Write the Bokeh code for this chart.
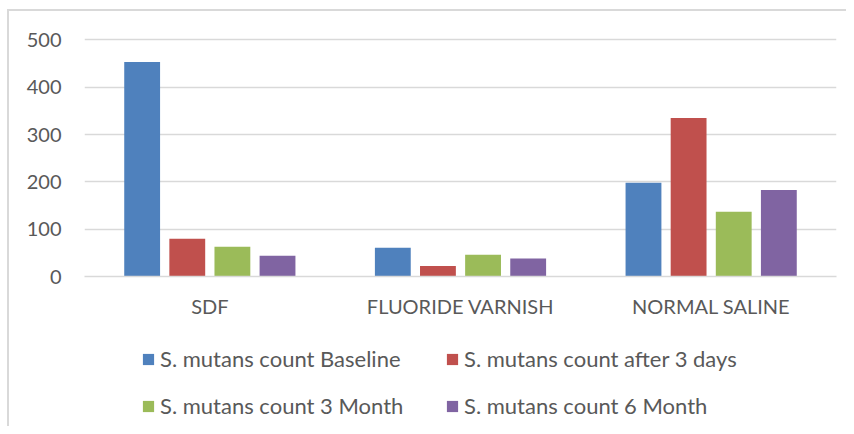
from bokeh.plotting import figure
from bokeh.layouts import column
from bokeh.models import FactorRange, Range1d, Legend, LegendItem, ColumnDataSource
from bokeh.transform import dodge
from bokeh.embed import file_html
from bokeh.resources import INLINE

categories = ["SDF", "FLUORIDE VARNISH", "NORMAL SALINE"]
series_names = ["S. mutans count Baseline", "S. mutans count after 3 days",
                "S. mutans count 3 Month", "S. mutans count 6 Month"]
baseline = [453, 61, 198]
after_3_days = [80, 22, 335]
month_3 = [63, 46, 137]
month_6 = [44, 38, 183]
y_ticks = [0, 100, 200, 300, 400, 500]

colors = ["#4F81BD", "#C0504D", "#9BBB59", "#8064A2"]
offsets = [-0.27, -0.09, 0.09, 0.27]
FONT = "Lato"
FS = "20px"
LFS = "22px"
TXT = "#595959"

src = ColumnDataSource(dict(cat=categories, s0=baseline, s1=after_3_days,
                            s2=month_3, s3=month_6))

bg = ("linear-gradient(#d9d9d9,#d9d9d9) 7px 9px / 2px 100% no-repeat, "
      "linear-gradient(#d9d9d9,#d9d9d9) 7px 9px / 100% 2px no-repeat, #ffffff")

# ---- chart ----
p = figure(x_range=FactorRange(*categories), y_range=Range1d(0, 505),
           width=846, height=330, output_backend="svg", toolbar_location=None,
           min_border_left=84, min_border_right=10, min_border_top=37,
           min_border_bottom=54)
p.background_fill_color = None
p.border_fill_color = None

for i in range(4):
    p.vbar(x=dodge("cat", offsets[i], range=p.x_range), top="s%d" % i,
           width=0.143, source=src, fill_color=colors[i], line_color=None)

p.outline_line_color = None
p.xgrid.grid_line_color = None
p.ygrid.grid_line_color = "#d9d9d9"
p.ygrid.grid_line_width = 1.3
p.yaxis.ticker = y_ticks

for ax in (p.xaxis, p.yaxis):
    ax.major_tick_line_color = None
    ax.minor_tick_line_color = None
    ax.major_tick_out = 0
    ax.major_tick_in = 0
    ax.major_label_text_font = FONT
    ax.major_label_text_font_size = FS
    ax.major_label_text_color = TXT
p.yaxis.axis_line_color = None
p.yaxis.major_label_standoff = 23
p.xaxis.axis_line_color = "#d9d9d9"
p.xaxis.axis_line_width = 1.5
p.xaxis.major_label_standoff = 17

# ---- legend area ----
lg = figure(width=846, height=96, output_backend="svg", toolbar_location=None,
            x_axis_location=None, y_axis_location=None, min_border=0,
            x_range=Range1d(0, 1), y_range=Range1d(0, 1))
lg.background_fill_color = None
lg.border_fill_color = None
lg.outline_line_color = None
lg.xgrid.grid_line_color = None
lg.ygrid.grid_line_color = None

# legend-only renderers (their single point lies outside the visible range)
dummies = [lg.vbar(x=[-5], top=[-5], width=0.1, fill_color=c, line_color=None)
           for c in colors]


def make_legend(idx, y):
    leg = Legend(items=[LegendItem(label=series_names[j], renderers=[dummies[j]]) for j in idx],
                 orientation="horizontal", location=(57, y))
    leg.border_line_color = None
    leg.background_fill_alpha = 0
    leg.padding = 0
    leg.margin = 0
    leg.spacing = 0
    leg.glyph_width = 14
    leg.glyph_height = 14
    leg.label_standoff = 5
    leg.label_width = 285
    leg.label_height = 26
    leg.label_text_font = FONT
    leg.label_text_font_size = LFS
    leg.label_text_color = TXT
    return leg


lg.add_layout(make_legend([0, 1], 54))
lg.add_layout(make_legend([2, 3], 7))

layout = column(p, lg, styles={"background": bg})
open("out.html", "w").write(file_html(layout, INLINE))
